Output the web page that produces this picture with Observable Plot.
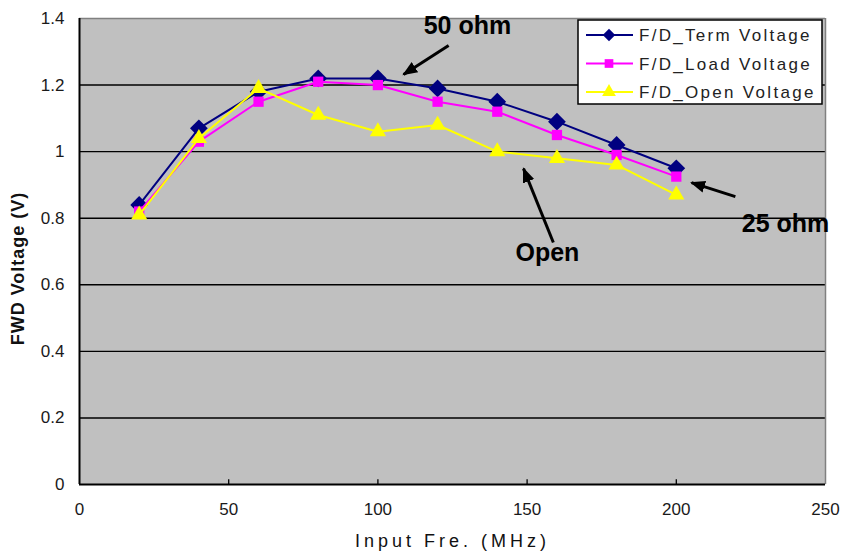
<!DOCTYPE html>
<html>
<head>
<meta charset="utf-8">
<script src="https://cdn.jsdelivr.net/npm/d3@7"></script>
<script src="https://cdn.jsdelivr.net/npm/@observablehq/plot@0.6"></script>
<style>
  html, body { margin: 0; padding: 0; background: white; }
  #chart { position: relative; width: 843px; height: 552px; }
</style>
</head>
<body>
<div id="chart"></div>
<script>
// ---- data ----
const freq = [20, 40, 60, 80, 100, 120, 140, 160, 180, 200];
const termVoltage = [0.84, 1.07, 1.18, 1.22, 1.22, 1.19, 1.15, 1.09, 1.02, 0.95];
const loadVoltage = [0.82, 1.03, 1.15, 1.21, 1.20, 1.15, 1.12, 1.05, 0.99, 0.925];
const openVoltage = [0.81, 1.04, 1.19, 1.11, 1.06, 1.08, 1.00, 0.98, 0.96, 0.87];
const seriesNames = ["F/D_Term Voltage", "F/D_Load Voltage", "F/D_Open Voltage"];
const seriesColors = ["#000080", "#ff00ff", "#ffff00"];
const seriesSymbols = ["diamond2", "square", "triangle"];
const xTicks = [0, 50, 100, 150, 200, 250];
const yTicks = [0, 0.2, 0.4, 0.6, 0.8, 1, 1.2, 1.4];
const xLabel = "Input Fre. (MHz)";
const yLabel = "FWD Voltage (V)";
// annotations: label position and arrow (from tail to head), in data units
const annoLabels = ["50 ohm", "25 ohm", "Open"];
const annoTextX = [130, 236.6, 156.8];
const annoTextY = [1.376, 0.784, 0.694];
const arrowTailX = [123.7, 219.8, 158.8];
const arrowTailY = [1.319, 0.865, 0.727];
const arrowHeadX = [108.6, 205.1, 148.8];
const arrowHeadY = [1.232, 0.907, 0.949];

// ---- build tables ----
const seriesValues = [termVoltage, loadVoltage, openVoltage];
const series = seriesNames.map((name, i) => ({
  name, color: seriesColors[i], symbol: seriesSymbols[i],
  rows: freq.map((f, j) => ({x: f, y: seriesValues[i][j]}))
}));
const annotations = annoLabels.map((label, i) => ({
  label, tx: annoTextX[i], ty: annoTextY[i],
  x1: arrowTailX[i], y1: arrowTailY[i], x2: arrowHeadX[i], y2: arrowHeadY[i]
}));
const symbolR = {diamond2: 8, square: 5.8, triangle: 6};
const legendR = {diamond2: 5.6, square: 4.9, triangle: 5.1};

const marks = [
  Plot.frame({fill: "#c0c0c0", stroke: null}),
  Plot.ruleY(yTicks.filter(d => d > 0 && d < 1.4), {stroke: "black", strokeWidth: 1.4}),
  Plot.ruleY([1.4], {stroke: "#808080", strokeWidth: 1.5}),
  Plot.ruleX([250], {stroke: "#808080", strokeWidth: 1.5}),
  Plot.ruleX(xTicks.filter(d => d > 0 && d < 250), {y1: 0, y2: 0.014, stroke: "black", strokeWidth: 1.3}),
  Plot.ruleY([0], {stroke: "black", strokeWidth: 2}),
  Plot.ruleX([0], {stroke: "black", strokeWidth: 2}),
  Plot.axisX({ticks: xTicks, tickSize: 0, tickPadding: 18, label: null, tickFormat: String}),
  Plot.axisY({ticks: yTicks, tickSize: 0, tickPadding: 15, label: null, tickFormat: String})
];
for (const s of series) {
  marks.push(Plot.line(s.rows, {x: "x", y: "y", stroke: s.color, strokeWidth: 2}));
  marks.push(Plot.dot(s.rows, {x: "x", y: "y", symbol: () => s.symbol, fill: s.color, stroke: null, r: symbolR[s.symbol]}));
}
marks.push(
  Plot.link(annotations, {x1: "x1", y1: "y1", x2: "x2", y2: "y2", stroke: "black", strokeWidth: 3}),
  Plot.text(annotations, {x: "tx", y: "ty", text: "label", fill: "black", fontWeight: "bold", fontSize: 25}),
  Plot.text([xLabel], {frameAnchor: "bottom", dy: 57, lineAnchor: "middle", fontSize: 18, fill: "#111", text: d => d}),
  Plot.text([yLabel], {frameAnchor: "left", rotate: -90, textAnchor: "middle", lineAnchor: "bottom", dx: -56, dy: 17, fontSize: 18, fontWeight: "bold", fill: "#111", text: d => d})
);

const chart = Plot.plot({
  width: 843,
  height: 552,
  marginLeft: 79,
  marginRight: 18,
  marginTop: 18,
  marginBottom: 68,
  x: {domain: [0, 250]},
  y: {domain: [0, 1.4]},
  symbol: {type: "identity"},
  style: {fontFamily: "'Liberation Sans', Arial, sans-serif", fontSize: "17px", color: "#1a1a1a", background: "white", overflow: "visible"},
  marks
});

// letter spacing on labels
d3.select(chart).selectAll("g[aria-label='text'] text").each(function() {
  const t = this.textContent;
  if (t === xLabel) this.setAttribute("letter-spacing", "4");
  if (t === yLabel) this.setAttribute("letter-spacing", "1");
});

// filled arrow heads
const svg = d3.select(chart);
const defs = svg.append("defs");
defs.append("marker")
  .attr("id", "ahead").attr("viewBox", "0 -5 10 10").attr("refX", 9).attr("refY", 0)
  .attr("markerWidth", 5).attr("markerHeight", 5).attr("orient", "auto")
  .append("path").attr("d", "M0,-4L10,0L0,4Z").attr("fill", "black");
svg.selectAll("g[aria-label='link'] path").attr("marker-end", "url(#ahead)");

// legend box
const lg = svg.append("g").attr("class", "legend").attr("text-anchor", "start");
lg.append("rect").attr("x", 578).attr("y", 20).attr("width", 244).attr("height", 84)
  .attr("fill", "white").attr("stroke", "black").attr("stroke-width", 1.5);
series.forEach((s, i) => {
  const cy = 35 + i * 28.5;
  lg.append("line").attr("x1", 586).attr("x2", 633).attr("y1", cy).attr("y2", cy)
    .attr("stroke", s.color).attr("stroke-width", 2);
  const sym = {diamond2: d3.symbolDiamond2, square: d3.symbolSquare, triangle: d3.symbolTriangle}[s.symbol];
  lg.append("path").attr("transform", `translate(609,${cy})`)
    .attr("d", d3.symbol(sym, Math.PI * legendR[s.symbol] ** 2)())
    .attr("fill", s.color);
  lg.append("text").attr("x", 639).attr("y", cy).attr("dy", "0.36em")
    .attr("text-anchor", "start")
    .attr("font-size", 17).attr("letter-spacing", "2.3").attr("fill", "#222")
    .text(s.name);
});

document.getElementById("chart").appendChild(chart);
</script>
</body>
</html>
